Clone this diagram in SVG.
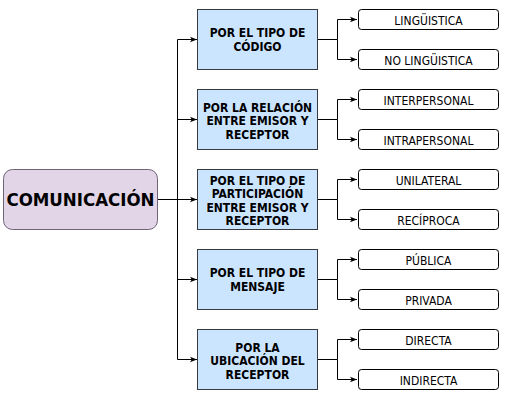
<svg xmlns="http://www.w3.org/2000/svg" width="515" height="402" viewBox="0 0 515 402">
<defs>
<marker id="ah" viewBox="0 0 10 10" refX="10" refY="5" markerWidth="7" markerHeight="7" markerUnits="userSpaceOnUse" orient="auto">
<path d="M0,1 L10,5 L0,9 L2.5,5 Z" fill="#000"/>
</marker>
<style>
.main{fill:#e1d5e7;stroke:#6e6478;stroke-width:1}
.cat{fill:#cce5ff;stroke:#36393d;stroke-width:1}
.leaf{fill:#fff;stroke:#000;stroke-width:1}
.bt{font-family:"DejaVu Sans Condensed","DejaVu Sans",sans-serif;font-stretch:condensed;font-weight:bold;font-size:12px;text-anchor:middle;fill:#000}
.mt{font-family:"DejaVu Sans Condensed","DejaVu Sans",sans-serif;font-stretch:condensed;font-weight:bold;font-size:18.5px;text-anchor:middle;fill:#000}
.lt{font-family:"DejaVu Sans Condensed","DejaVu Sans",sans-serif;font-stretch:condensed;font-size:12px;text-anchor:middle;fill:#000}
.c{fill:none;stroke:#000;stroke-width:1}
</style>
</defs>
<rect width="515" height="402" fill="#fff"/>
<g id="connectors">
<path class="c" d="M157.5,199.5 H197" marker-end="url(#ah)"/>
<path class="c" d="M177.5,199.5 V39.5 H197" marker-end="url(#ah)"/>
<path class="c" d="M177.5,119.5 H197" marker-end="url(#ah)"/>
<path class="c" d="M177.5,199.5 V359.5 H197" marker-end="url(#ah)"/>
<path class="c" d="M177.5,279.5 H197" marker-end="url(#ah)"/>
<path class="c" d="M318,39.5 H337.5 V19.5 H357" marker-end="url(#ah)"/>
<path class="c" d="M337.5,39.5 V59.5 H357" marker-end="url(#ah)"/>
<path class="c" d="M318,119.5 H337.5 V99.5 H357" marker-end="url(#ah)"/>
<path class="c" d="M337.5,119.5 V139.5 H357" marker-end="url(#ah)"/>
<path class="c" d="M318,199.5 H337.5 V179.5 H357" marker-end="url(#ah)"/>
<path class="c" d="M337.5,199.5 V219.5 H357" marker-end="url(#ah)"/>
<path class="c" d="M318,279.5 H337.5 V259.5 H357" marker-end="url(#ah)"/>
<path class="c" d="M337.5,279.5 V299.5 H357" marker-end="url(#ah)"/>
<path class="c" d="M318,359.5 H337.5 V339.5 H357" marker-end="url(#ah)"/>
<path class="c" d="M337.5,359.5 V379.5 H357" marker-end="url(#ah)"/>
</g>
<g id="comunicacion">
<rect class="main" x="3.5" y="169.5" width="154" height="60" rx="9"/>
<text class="mt" x="80.5" y="206">COMUNICACIÓN</text>
</g>
<g id="cat1">
<rect class="cat" x="197.5" y="9.5" width="120" height="60"/>
<text class="bt" x="257.5" y="37">POR EL TIPO DE</text>
<text class="bt" x="257.5" y="50.5">CÓDIGO</text>
</g>
<g id="cat2">
<rect class="cat" x="197.5" y="89.5" width="120" height="60"/>
<text class="bt" x="257.5" y="111.5">POR LA RELACIÓN</text>
<text class="bt" x="257.5" y="125">ENTRE EMISOR Y</text>
<text class="bt" x="257.5" y="139">RECEPTOR</text>
</g>
<g id="cat3">
<rect class="cat" x="197.5" y="169.5" width="120" height="60"/>
<text class="bt" x="257.5" y="184.5">POR EL TIPO DE</text>
<text class="bt" x="257.5" y="198">PARTICIPACIÓN</text>
<text class="bt" x="257.5" y="211.5">ENTRE EMISOR Y</text>
<text class="bt" x="257.5" y="225">RECEPTOR</text>
</g>
<g id="cat4">
<rect class="cat" x="197.5" y="249.5" width="120" height="60"/>
<text class="bt" x="257.5" y="277">POR EL TIPO DE</text>
<text class="bt" x="257.5" y="290.5">MENSAJE</text>
</g>
<g id="cat5">
<rect class="cat" x="197.5" y="329.5" width="120" height="60"/>
<text class="bt" x="257.5" y="351.5">POR LA</text>
<text class="bt" x="257.5" y="365">UBICACIÓN DEL</text>
<text class="bt" x="257.5" y="379">RECEPTOR</text>
</g>
<g id="leaf1"><rect class="leaf" x="358.5" y="9.5" width="140" height="20" rx="3"/><text class="lt" x="428.5" y="24.5">LINGÜISTICA</text></g>
<g id="leaf2"><rect class="leaf" x="358.5" y="49.5" width="140" height="20" rx="3"/><text class="lt" x="428.5" y="64.5">NO LINGÜISTICA</text></g>
<g id="leaf3"><rect class="leaf" x="358.5" y="89.5" width="140" height="20" rx="3"/><text class="lt" x="428.5" y="104.5">INTERPERSONAL</text></g>
<g id="leaf4"><rect class="leaf" x="358.5" y="129.5" width="140" height="20" rx="3"/><text class="lt" x="428.5" y="144.5">INTRAPERSONAL</text></g>
<g id="leaf5"><rect class="leaf" x="358.5" y="169.5" width="140" height="20" rx="3"/><text class="lt" x="428.5" y="184.5">UNILATERAL</text></g>
<g id="leaf6"><rect class="leaf" x="358.5" y="209.5" width="140" height="20" rx="3"/><text class="lt" x="428.5" y="224.5">RECÍPROCA</text></g>
<g id="leaf7"><rect class="leaf" x="358.5" y="249.5" width="140" height="20" rx="3"/><text class="lt" x="428.5" y="264.5">PÚBLICA</text></g>
<g id="leaf8"><rect class="leaf" x="358.5" y="289.5" width="140" height="20" rx="3"/><text class="lt" x="428.5" y="304.5">PRIVADA</text></g>
<g id="leaf9"><rect class="leaf" x="358.5" y="329.5" width="140" height="20" rx="3"/><text class="lt" x="428.5" y="344.5">DIRECTA</text></g>
<g id="leaf10"><rect class="leaf" x="358.5" y="369.5" width="140" height="20" rx="3"/><text class="lt" x="428.5" y="384.5">INDIRECTA</text></g>
</svg>
